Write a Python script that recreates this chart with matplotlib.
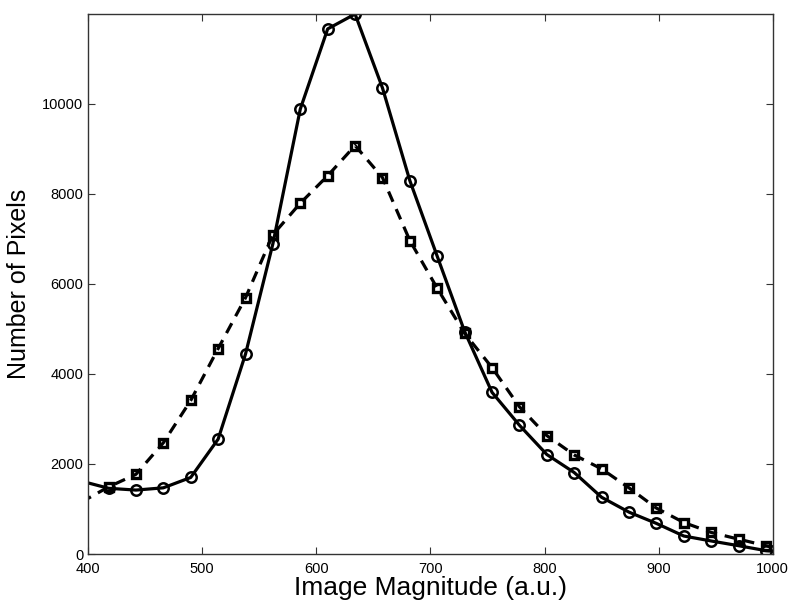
import matplotlib
matplotlib.use('Agg')
import matplotlib.pyplot as plt

plt.rcParams['font.family'] = ['Liberation Sans', 'DejaVu Sans']

# magnitude bins (first and last lie just outside the axis range)
mag = [394, 418, 442, 466, 490, 514, 538, 562, 586, 610, 634, 658, 682,
       706, 730, 754, 778, 802, 826, 850, 874, 898, 922, 946, 970, 994, 1018]

# solid curve, circles
solid = [1620, 1460, 1420, 1470, 1700, 2550, 4440, 6890, 9880, 11660, 11990,
         10350, 8290, 6610, 4940, 3590, 2860, 2210, 1810, 1260, 930, 680,
         400, 290, 185, 75, 30]

# dashed curve, squares
dashed = [1150, 1490, 1770, 2470, 3410, 4560, 5690, 7090, 7790, 8400, 9070,
          8360, 6960, 5900, 4900, 4140, 3270, 2630, 2200, 1890, 1470, 1020,
          700, 480, 330, 185, 90]

fig = plt.figure(figsize=(8, 6.16), dpi=100)
ax = fig.add_axes([0.11, 0.1006, 0.856, 0.8766])

ax.plot(mag, solid, color='black', lw=2.3, marker='o', ms=7.5,
        mfc='none', mew=1.8)
ax.plot(mag, dashed, color='black', lw=2.3, ls=(0, (3.5, 2.5)), marker='s',
        ms=5.2, mfc='none', mew=2.4)

ax.set_xlim(400, 1000)
ax.set_ylim(0, 11990)
ax.set_xticks(range(400, 1001, 100))
ax.set_yticks(range(0, 11000, 2000))
ax.tick_params(direction='in', top=True, right=True, labelsize=10.5,
               length=5, width=0.8, color='#333333')
ax.tick_params(axis='x', pad=6)
for s in ax.spines.values():
    s.set_linewidth(1.0)
    s.set_color('#333333')

ax.set_xlabel('Image Magnitude (a.u.)', fontsize=19, labelpad=0)
ax.set_ylabel('Number of Pixels', fontsize=18, labelpad=8)

fig.savefig('out.png', dpi=100)
